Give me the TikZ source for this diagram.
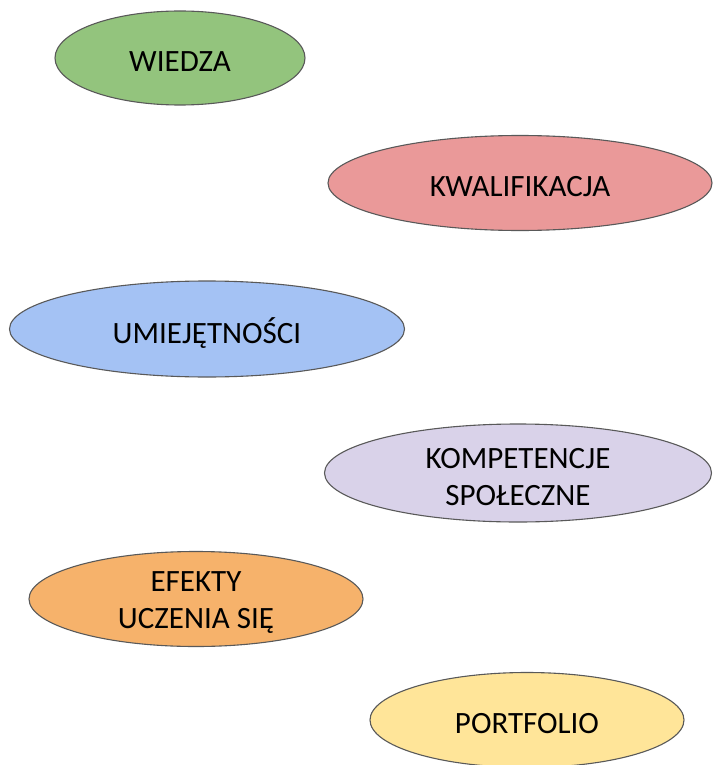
\documentclass[tikz,border=0pt]{standalone}
\usepackage{fontspec}
\setmainfont{Carlito}
\usetikzlibrary{shapes.geometric}
\definecolor{cgreen}{HTML}{93C47D}
\definecolor{cpink}{HTML}{EA9999}
\definecolor{cblue}{HTML}{A4C2F4}
\definecolor{clav}{HTML}{D9D2E9}
\definecolor{corange}{HTML}{F6B26B}
\definecolor{cyellow}{HTML}{FFE599}
\definecolor{cline}{HTML}{595959}
\begin{document}
\begin{tikzpicture}[x=1pt,y=-1pt,
  blob/.style={ellipse, draw=cline, line width=1.1pt, inner sep=0pt},
  txt/.style={font=\fontsize{31}{37}\selectfont, align=center, text=black, inner sep=0pt}]
\useasboundingbox (0,0) rectangle (713,765);
\node[blob, fill=cgreen, minimum width=250pt, minimum height=94pt] (wiedza) at (180,58) {};
\node[blob, fill=cpink, minimum width=384pt, minimum height=95pt] (kwal) at (520,183) {};
\node[blob, fill=cblue, minimum width=395pt, minimum height=96pt] (umiej) at (207,329) {};
\node[blob, fill=clav, minimum width=387pt, minimum height=98pt] (komp) at (518,473) {};
\node[blob, fill=corange, minimum width=334pt, minimum height=95pt] (efekty) at (196,599) {};
\node[blob, fill=cyellow, minimum width=314pt, minimum height=95pt] (portf) at (527,720) {};
\node[txt] (twiedza) at ([yshift=-4pt]wiedza.center) {WIEDZA};
\node[txt] (tkwal) at ([yshift=-4pt]kwal.center) {KWALIFIKACJA};
\node[txt] (tumiej) at ([yshift=-4pt]umiej.center) {UMIEJĘTNOŚCI};
\node[txt] (tkomp) at ([yshift=-4pt]komp.center) {KOMPETENCJE\\SPOŁECZNE};
\node[txt] (tefekty) at ([yshift=-4pt]efekty.center) {EFEKTY\\UCZENIA SIĘ};
\node[txt] (tportf) at ([yshift=-4pt]portf.center) {PORTFOLIO};
\end{tikzpicture}
\end{document}
